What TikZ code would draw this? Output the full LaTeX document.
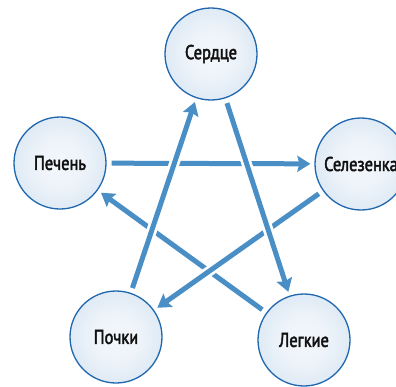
\documentclass[tikz,border=0pt]{standalone}
\usepackage{fontspec}
\setmainfont{PT Sans}[FakeStretch=0.82,FakeBold=2.2]
\usetikzlibrary{arrows.meta}
\definecolor{arrowblue}{HTML}{4A8EC6}
\definecolor{rimblue}{HTML}{1E66AE}
\definecolor{labelink}{HTML}{111111}
\pgfdeclareradialshading{organball}{\pgfpoint{0bp}{0bp}}{%
  rgb(0bp)=(0.955,0.970,0.988);
  rgb(12bp)=(0.935,0.955,0.980);
  rgb(24bp)=(0.880,0.922,0.962);
  rgb(34bp)=(0.830,0.890,0.945);
  rgb(42bp)=(0.770,0.850,0.925);
  rgb(47bp)=(0.730,0.822,0.912);
  rgb(50bp)=(0.760,0.845,0.925)}
\begin{document}
\begin{tikzpicture}[x=1pt,y=-1pt,
  organ/.style={circle, minimum size=92pt, inner sep=0pt, draw=rimblue,
    line width=1.3pt, shading=organball, text=labelink,
    font=\fontsize{20}{24}\selectfont},
  link/.style={draw=arrowblue, line width=5pt,
    -{Stealth[inset=2pt,length=13pt,width=16pt]},
    shorten <=5pt, shorten >=4pt},
  gap/.style={draw=white, line width=10.5pt, shorten <=20pt, shorten >=20pt}]
\clip (0,0) rectangle (396,386);
\useasboundingbox (0,0) rectangle (396,386);
\node[organ] (heart)  at (211,54)  {Сердце};
\node[organ] (liver)  at (60,163)  {Печень};
\node[organ] (spleen) at (361,164) {Селезенка};
\node[organ] (kidney) at (116,337) {Почки};
\node[organ] (lungs)  at (304,340) {Легкие};
\draw[link] (liver) -- (spleen);
\draw[link] (lungs) -- (liver);
\draw[gap] (spleen) -- (kidney);
\draw[link] (spleen) -- (kidney);
\draw[gap] (kidney) -- (heart);
\draw[link] (kidney) -- (heart);
\draw[gap] (heart) -- (lungs);
\draw[link] (heart) -- (lungs);
\end{tikzpicture}
\end{document}
